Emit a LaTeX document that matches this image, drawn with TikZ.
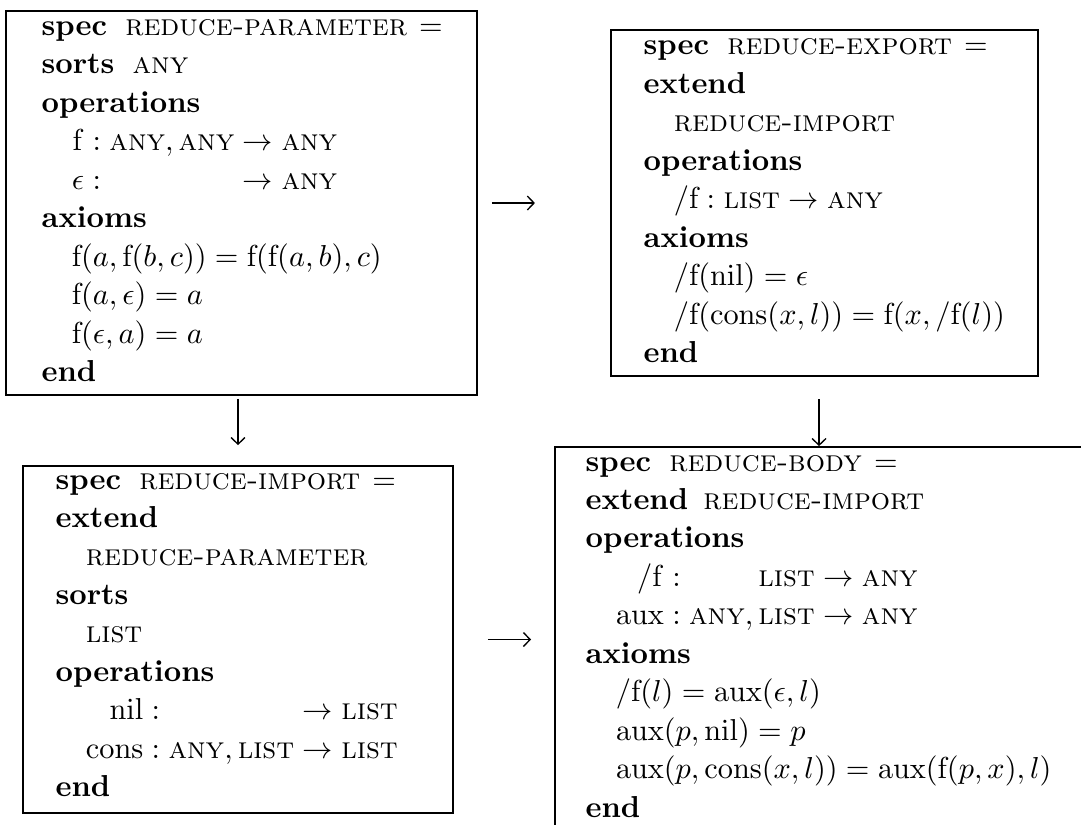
\documentclass[tikz,border=0pt]{standalone}
\usetikzlibrary{arrows.meta,fit}
\begin{document}
\begin{tikzpicture}[x=0.33pt,y=-0.33pt,
  box/.style={draw, line width=0.6pt, inner sep=0pt},
  spectext/.style={anchor=base west, inner sep=0pt, font=\fontsize{10}{12.7}\selectfont},
  arr/.style={line width=0.45pt, -{Straight Barb[length=2.2pt,width=4.6pt]}}]
\useasboundingbox (0,0) rectangle (1081,824);
\clip (0,0) rectangle (1081,824);

% boxes
\node[box, fit={(6,11) (477,395)}] (param) {};
\node[box, fit={(611,30) (1038,376)}] (export) {};
\node[box, fit={(23,466) (453,813)}] (import) {};
\node[box, fit={(555,447) (1300,1000)}] (body) {};

% texts
\node[spectext] (paramtext) at (41,35.5) {\begin{tabular}[t]{@{}l@{}}
\textbf{spec}\hspace{6pt}\textsc{reduce-parameter}\hspace{4pt}$=$\\
\textbf{sorts}\hspace{6pt}\textsc{any}\\
\textbf{operations}\\
\hspace{1em}$\hphantom{\epsilon}\llap{$\mathrm{f}$} : \textsc{any}, \textsc{any} \to \textsc{any}$\\
\hspace{1em}$\epsilon : \hphantom{\textsc{any}, \textsc{any}} \to \textsc{any}$\\
\textbf{axioms}\\
\hspace{1em}$\mathrm{f}(a, \mathrm{f}(b, c)) = \mathrm{f}(\mathrm{f}(a, b), c)$\\
\hspace{1em}$\mathrm{f}(a, \epsilon) = a$\\
\hspace{1em}$\mathrm{f}(\epsilon, a) = a$\\
\textbf{end}
\end{tabular}};

\node[spectext] (exporttext) at (643,54.8) {\begin{tabular}[t]{@{}l@{}}
\textbf{spec}\hspace{6pt}\textsc{reduce-export}\hspace{4pt}$=$\\
\textbf{extend}\\
\hspace{1em}\textsc{reduce-import}\\
\textbf{operations}\\
\hspace{1em}$/\mathrm{f} : \textsc{list} \to \textsc{any}$\\
\textbf{axioms}\\
\hspace{1em}$/\mathrm{f}(\mathrm{nil}) = \epsilon$\\
\hspace{1em}$/\mathrm{f}(\mathrm{cons}(x, l)) = \mathrm{f}(x, /\mathrm{f}(l))$\\
\textbf{end}
\end{tabular}};

\node[spectext] (importtext) at (55,489) {\begin{tabular}[t]{@{}l@{}}
\textbf{spec}\hspace{6pt}\textsc{reduce-import}\hspace{4pt}$=$\\
\textbf{extend}\\
\hspace{1em}\textsc{reduce-parameter}\\
\textbf{sorts}\\
\hspace{1em}\textsc{list}\\
\textbf{operations}\\
\hspace{1em}$\hphantom{\mathrm{cons}}\llap{$\mathrm{nil}$} : \hphantom{\textsc{any}, \textsc{list}} \to \textsc{list}$\\
\hspace{1em}$\mathrm{cons} : \textsc{any}, \textsc{list} \to \textsc{list}$\\
\textbf{end}
\end{tabular}};

\node[spectext] (bodytext) at (585,471) {\begin{tabular}[t]{@{}l@{}}
\textbf{spec}\hspace{6pt}\textsc{reduce-body}\hspace{4pt}$=$\\
\textbf{extend}\hspace{5pt}\textsc{reduce-import}\\
\textbf{operations}\\
\hspace{1em}$\hphantom{\mathrm{aux}}\llap{$/\mathrm{f}$} : \hphantom{\textsc{any},}\,\textsc{list} \to \textsc{any}$\\
\hspace{1em}$\mathrm{aux} : \textsc{any}, \textsc{list} \to \textsc{any}$\\
\textbf{axioms}\\
\hspace{1em}$/\mathrm{f}(l) = \mathrm{aux}(\epsilon, l)$\\
\hspace{1em}$\mathrm{aux}(p, \mathrm{nil}) = p$\\
\hspace{1em}$\mathrm{aux}(p, \mathrm{cons}(x, l)) = \mathrm{aux}(\mathrm{f}(p, x), l)$\\
\textbf{end}
\end{tabular}};

% connectors
\draw[arr, shorten <=4.6pt, shorten >=24.8pt] (param.east) -- (export.west);
\draw[arr, shorten <=11.2pt, shorten >=7.6pt] (import.east) -- (import.east -| body.west);
\draw[arr, shorten <=1pt, shorten >=6.6pt] (import.north |- param.south) -- (import.north);
\coordinate (dr) at ([xshift=-1.8pt]export.south);
\draw[arr, shorten <=7.3pt] (dr) -- (dr |- body.north);
\end{tikzpicture}
\end{document}
